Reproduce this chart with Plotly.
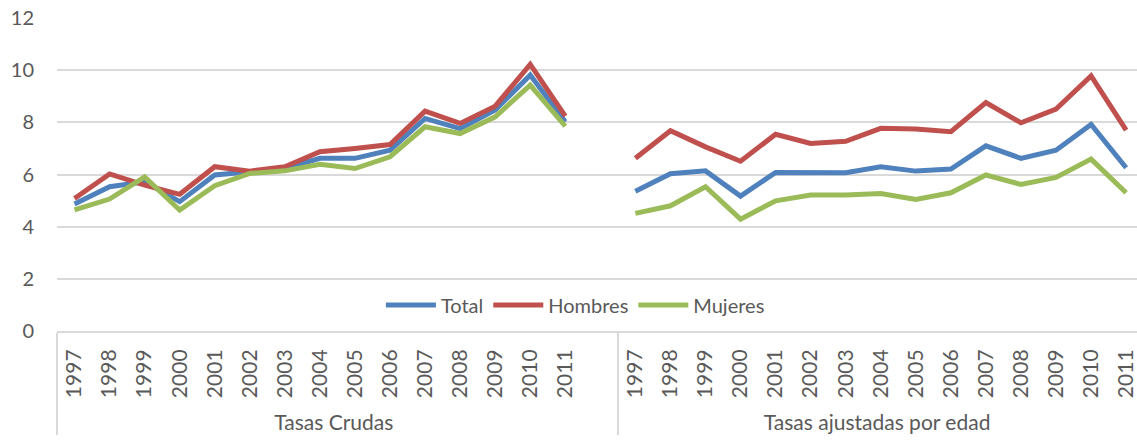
import plotly.graph_objects as go

years = ["1997", "1998", "1999", "2000", "2001", "2002", "2003", "2004",
         "2005", "2006", "2007", "2008", "2009", "2010", "2011"]
groups = ["Tasas Crudas", "Tasas ajustadas por edad"]

total_crudas = [4.87, 5.53, 5.72, 4.96, 5.98, 6.10, 6.23, 6.62, 6.62, 6.93, 8.15, 7.76, 8.47, 9.81, 8.02]
hombres_crudas = [5.08, 6.02, 5.59, 5.24, 6.30, 6.13, 6.30, 6.87, 7.00, 7.15, 8.43, 7.96, 8.62, 10.22, 8.24]
mujeres_crudas = [4.64, 5.06, 5.91, 4.64, 5.57, 6.04, 6.14, 6.39, 6.23, 6.68, 7.83, 7.57, 8.21, 9.43, 7.85]

total_ajust = [5.36, 6.03, 6.14, 5.17, 6.08, 6.08, 6.07, 6.30, 6.13, 6.21, 7.10, 6.62, 6.93, 7.92, 6.26]
hombres_ajust = [6.62, 7.68, 7.06, 6.51, 7.54, 7.19, 7.27, 7.77, 7.74, 7.64, 8.76, 7.98, 8.51, 9.78, 7.70]
mujeres_ajust = [4.51, 4.80, 5.53, 4.29, 4.99, 5.21, 5.21, 5.27, 5.04, 5.30, 5.98, 5.62, 5.89, 6.59, 5.30]

series = [
    ("Total", total_crudas, total_ajust, "#4F81BD"),
    ("Hombres", hombres_crudas, hombres_ajust, "#C0504D"),
    ("Mujeres", mujeres_crudas, mujeres_ajust, "#9BBB59"),
]

# multicategory x: first group has an extra empty slot (gap), as in the original
outer = [groups[0]] * (len(years) + 1) + [groups[1]] * len(years)
inner = years + [" "] + years

FONT = "Lato"
GREY = "#595959"

fig = go.Figure()
for name, cr, aj, color in series:
    yvals = cr + [None] + aj
    fig.add_trace(go.Scatter(
        x=[outer, inner], y=yvals, name=name, mode="lines",
        line=dict(color=color, width=5), connectgaps=False,
    ))

fig.update_layout(
    width=1137, height=445,
    margin=dict(l=57, r=0, t=18, b=114),
    paper_bgcolor="white", plot_bgcolor="white",
    font=dict(family=FONT, size=20, color=GREY),
    showlegend=True,
    legend=dict(orientation="h", x=0.48, xanchor="center", y=0.083, yanchor="middle",
                bgcolor="rgba(0,0,0,0)", font=dict(size=20, color=GREY),
                itemwidth=50, tracegroupgap=0),
    xaxis=dict(type="multicategory", range=[-0.5, 30.31], automargin=False,
               tickangle=-90, tickfont=dict(size=21, color=GREY),
               ticklabelstandoff=8,
               showgrid=False, showline=True, linecolor="#D9D9D9", linewidth=2,
               showdividers=True, dividercolor="#D9D9D9", dividerwidth=2,
               ticks=""),
    yaxis=dict(range=[0, 12], dtick=2, showgrid=True, gridcolor="#D9D9D9", gridwidth=2,
               zeroline=False, showline=False, automargin=False,
               tickfont=dict(size=20, color=GREY),
               ticks="outside", ticklen=18, tickcolor="rgba(0,0,0,0)"),
)

fig.write_html(
    "out.html",
    config={"displayModeBar": False},
    post_script="document.body.style.margin='0';document.body.style.padding='0';"
                "window.dispatchEvent(new Event('resize'));",
)
